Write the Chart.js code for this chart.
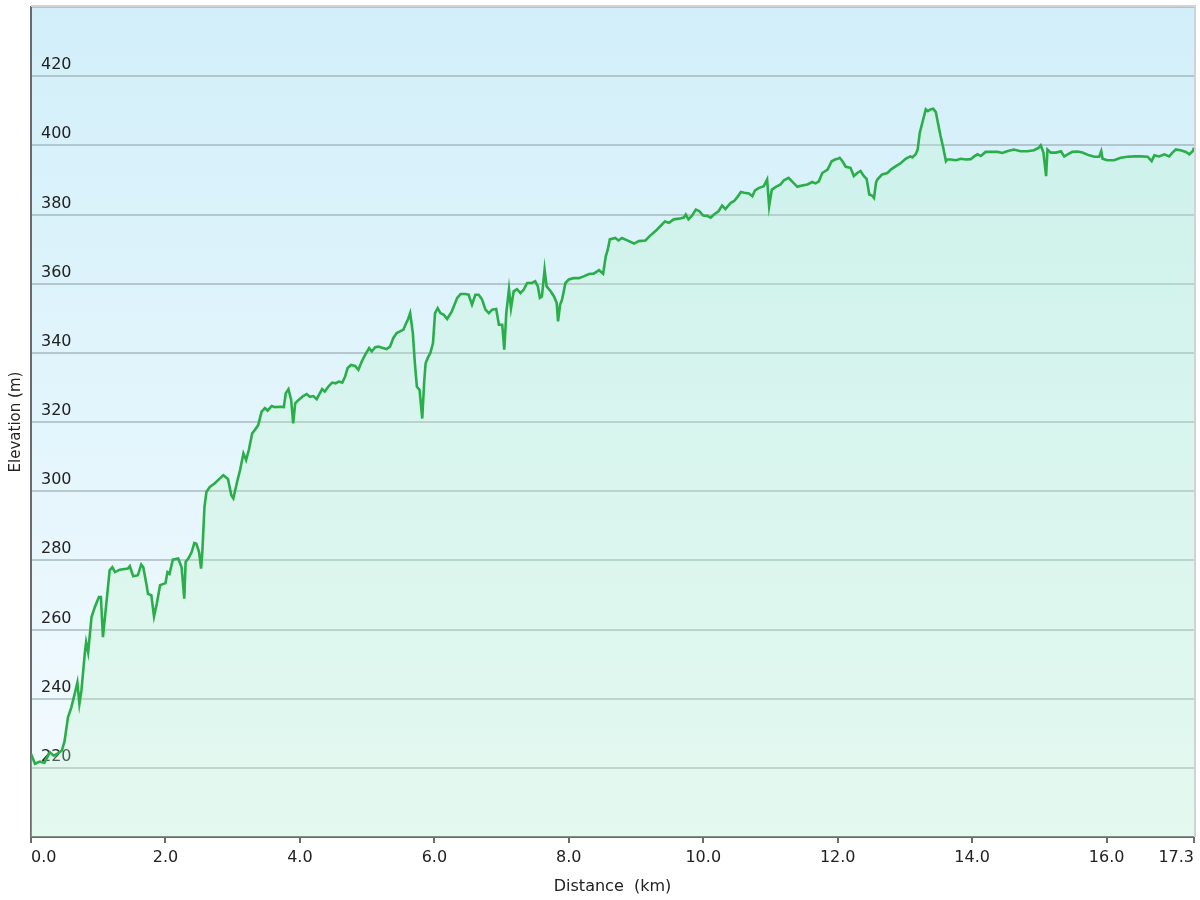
<!DOCTYPE html>
<html>
<head>
<meta charset="utf-8">
<script src="https://cdn.jsdelivr.net/npm/chart.js@4"></script>
<style>
  html, body { margin: 0; padding: 0; background: #ffffff; }
  #wrap { width: 1200px; height: 900px; }
</style>
</head>
<body>
<div id="wrap"><canvas id="c" width="1200" height="900"></canvas></div>
<script>
// Distance along the route (km)
const distKm = [
  0.00,0.06,0.13,0.20,0.28,0.34,0.40,0.46,0.50,0.55,0.60,0.65,0.69,0.72,0.75,0.80,0.82,0.85,0.90,0.95,
  1.01,1.04,1.07,1.12,1.17,1.21,1.25,1.32,1.44,1.47,1.52,1.59,1.64,1.67,1.72,1.74,1.79,1.83,1.87,1.92,
  1.97,2.00,2.03,2.06,2.11,2.19,2.24,2.28,2.30,2.34,2.39,2.43,2.46,2.50,2.53,2.55,2.58,2.61,2.66,2.73,
  2.81,2.86,2.93,2.98,3.01,3.06,3.11,3.16,3.20,3.24,3.29,3.33,3.38,3.43,3.48,3.52,3.58,3.63,3.71,3.76,
  3.79,3.83,3.87,3.90,3.93,3.98,4.05,4.10,4.15,4.20,4.25,4.33,4.37,4.43,4.48,4.53,4.58,4.63,4.67,4.71,
  4.76,4.82,4.87,4.92,4.97,5.03,5.07,5.12,5.17,5.22,5.29,5.34,5.39,5.44,5.49,5.54,5.57,5.61,5.64,5.68,
  5.71,5.74,5.78,5.82,5.85,5.87,5.91,5.94,5.98,6.01,6.05,6.09,6.14,6.19,6.26,6.34,6.39,6.46,6.51,6.56,
  6.61,6.66,6.71,6.76,6.81,6.86,6.92,6.96,7.01,7.04,7.07,7.11,7.14,7.18,7.23,7.28,7.33,7.38,7.45,7.50,
  7.54,7.57,7.60,7.64,7.67,7.73,7.78,7.82,7.84,7.87,7.90,7.95,8.00,8.07,8.15,8.22,8.30,8.37,8.45,8.51,
  8.55,8.58,8.61,8.69,8.74,8.79,8.87,8.97,9.04,9.14,9.21,9.29,9.36,9.43,9.49,9.56,9.64,9.71,9.74,9.78,
  9.83,9.89,9.94,10.00,10.06,10.11,10.16,10.23,10.28,10.33,10.41,10.46,10.51,10.56,10.61,10.68,10.73,10.77,10.83,10.90,
  10.95,10.98,11.02,11.08,11.15,11.20,11.27,11.32,11.40,11.47,11.55,11.62,11.67,11.72,11.77,11.85,11.91,11.96,12.00,12.03,
  12.07,12.12,12.19,12.24,12.29,12.34,12.39,12.43,12.47,12.51,12.54,12.57,12.59,12.66,12.74,12.79,12.86,12.94,13.01,13.08,
  13.11,13.16,13.19,13.22,13.26,13.31,13.34,13.38,13.42,13.46,13.49,13.53,13.57,13.61,13.63,13.68,13.76,13.83,13.91,13.98,
  14.03,14.08,14.13,14.20,14.28,14.38,14.45,14.52,14.62,14.72,14.82,14.92,14.99,15.02,15.06,15.10,15.12,15.17,15.25,15.32,
  15.37,15.42,15.49,15.57,15.64,15.74,15.82,15.89,15.92,15.94,16.01,16.11,16.21,16.31,16.41,16.51,16.61,16.67,16.71,16.78,
  16.86,16.93,16.98,17.03,17.10,17.18,17.23,17.28,17.30
];
// Elevation (m)
const elevM = [
  224.0,221.2,221.8,221.5,224.5,223.5,224.2,225.0,227.8,234.6,237.5,241.4,244.7,238.5,242.3,253.0,256.3,253.4,263.6,266.5,
  269.4,269.4,257.8,267.4,277.1,278.0,276.6,277.3,277.6,278.3,275.4,275.7,278.8,278.0,272.8,270.3,269.9,263.8,267.4,272.8,
  273.2,273.4,276.6,276.1,280.2,280.5,278.0,268.9,279.5,280.5,282.4,285.0,284.8,282.4,277.6,282.9,295.4,299.8,301.2,302.2,
  303.7,304.6,303.5,298.8,297.9,302.2,306.1,310.9,309.0,311.9,316.7,317.7,319.1,323.0,324.0,323.3,324.6,324.3,324.4,324.3,
  328.3,329.5,326.4,319.6,325.4,326.4,327.5,328.1,327.3,327.5,326.6,329.5,328.8,330.4,331.4,331.2,331.7,331.4,333.0,335.6,
  336.5,336.2,335.1,337.5,339.4,341.4,340.4,341.6,341.8,341.5,341.1,341.8,344.3,345.7,346.2,346.7,348.1,349.8,351.5,345.7,
  337.0,330.2,329.3,321.0,332.0,337.0,338.9,339.9,342.8,351.5,352.9,351.5,351.0,349.8,352.0,355.9,357.0,357.0,356.8,353.9,
  356.8,356.8,355.4,352.5,351.5,352.5,352.7,348.1,348.1,340.9,351.5,358.4,352.9,357.8,358.4,357.3,358.3,360.2,360.2,360.7,
  359.2,355.9,356.3,364.1,359.2,357.8,356.3,354.4,349.1,353.9,355.4,360.2,361.2,361.6,361.6,362.1,362.8,362.9,363.9,362.9,
  367.9,369.9,372.8,373.2,372.5,373.2,372.5,371.6,372.3,372.5,373.9,375.2,376.6,378.0,377.6,378.6,378.8,379.1,380.0,378.6,
  379.6,381.4,381.0,379.7,379.6,379.1,380.0,381.0,382.6,381.6,383.4,383.9,385.1,386.5,386.3,386.1,385.3,387.0,387.7,388.2,
  390.1,382.4,387.2,388.0,388.7,389.9,390.6,389.6,388.0,388.4,388.7,389.4,389.0,389.6,392.0,393.0,395.4,395.9,396.1,396.4,
  395.4,393.8,393.5,391.1,392.0,392.6,391.1,390.3,385.8,385.5,384.8,389.2,390.1,391.6,392.0,393.0,393.9,394.9,396.1,396.8,
  396.5,397.4,398.8,403.6,406.6,410.4,409.9,410.4,410.6,409.6,406.6,402.7,399.3,395.4,395.9,395.9,395.7,396.1,395.9,396.0,
  396.8,397.4,396.9,398.1,398.1,398.1,397.8,398.3,398.8,398.3,398.3,398.6,399.3,400.0,397.9,391.1,398.8,397.9,397.9,398.3,
  396.8,397.4,398.1,398.2,397.9,397.1,396.7,396.7,398.3,396.1,395.7,395.7,396.4,396.7,396.8,396.8,396.7,395.4,397.1,396.8,
  397.4,396.8,397.9,398.8,398.6,398.1,397.4,398.3,399.3
];
// Axis tick values
const xTickValues = [0, 2, 4, 6, 8, 10, 12, 14, 16, 17.3];
const yMin = 200, yMax = 440, yStep = 20;
const yHiddenLabels = [200, 440];

const FONT = '"DejaVu Sans", Verdana, sans-serif';

const bgPlugin = {
  id: 'bg',
  beforeDraw(chart) {
    const { ctx, chartArea: a } = chart;
    const g = ctx.createLinearGradient(0, a.top, 0, a.bottom);
    g.addColorStop(0, '#d2eff9');
    g.addColorStop(1, '#f4fbff');
    ctx.save();
    ctx.fillStyle = g;
    ctx.fillRect(a.left, a.top, a.right - a.left, a.bottom - a.top);
    ctx.restore();
  },
  afterDraw(chart) {
    const { ctx, chartArea: a } = chart;
    ctx.save();
    ctx.strokeStyle = '#cfd3d5';
    ctx.lineWidth = 2;
    ctx.beginPath();
    ctx.moveTo(a.left, a.top - 1);
    ctx.lineTo(a.right + 1, a.top - 1);
    ctx.lineTo(a.right + 1, a.bottom);
    ctx.stroke();
    ctx.restore();
  }
};

new Chart(document.getElementById('c'), {
  type: 'line',
  data: {
    datasets: [{
      data: distKm.map((d, i) => ({ x: d, y: elevM[i] })),
      borderColor: '#2aae4a',
      borderWidth: 2.6,
      pointRadius: 0,
      tension: 0,
      fill: 'start',
      backgroundColor: 'rgba(185,245,200,0.28)'
    }]
  },
  options: {
    responsive: false,
    animation: false,
    devicePixelRatio: 1,
    layout: { padding: { top: 7, right: 6, left: 0, bottom: 0 } },
    plugins: { legend: { display: false }, tooltip: { enabled: false } },
    scales: {
      x: {
        type: 'linear',
        min: 0,
        max: 17.3,
        afterBuildTicks(scale) { scale.ticks = xTickValues.map(v => ({ value: v })); },
        afterFit(scale) { scale.height = 63; scale.paddingLeft = 0; scale.paddingRight = 0; },
        border: { color: '#6b6b6b', width: 2 },
        grid: { drawOnChartArea: false, drawTicks: true, tickLength: 6, color: '#6b6b6b', lineWidth: 2 },
        ticks: {
          align: 'inner',
          autoSkip: false,
          maxRotation: 0,
          padding: 5,
          color: '#222',
          font: { family: FONT, size: 16 },
          callback: v => Number(v).toFixed(1)
        },
        title: {
          display: true,
          text: 'Distance  (km)',
          color: '#222',
          font: { family: FONT, size: 16 },
          padding: { top: 0, bottom: 4 }
        }
      },
      y: {
        min: yMin,
        max: yMax,
        afterFit(scale) { scale.width = 31; scale.paddingTop = 0; scale.paddingBottom = 0; },
        border: { color: '#6b6b6b', width: 2 },
        grid: { color: 'rgba(140,155,160,0.5)', lineWidth: 2, drawTicks: false },
        ticks: {
          stepSize: yStep,
          mirror: true,
          padding: 10,
          labelOffset: -11,
          color: '#222',
          font: { family: FONT, size: 16 },
          callback: v => (yHiddenLabels.includes(v) ? '' : String(v))
        },
        title: {
          display: true,
          text: 'Elevation (m)',
          color: '#222',
          font: { family: FONT, size: 15 },
          padding: { top: 7, bottom: 0 }
        }
      }
    }
  },
  plugins: [bgPlugin]
});
</script>
</body>
</html>
